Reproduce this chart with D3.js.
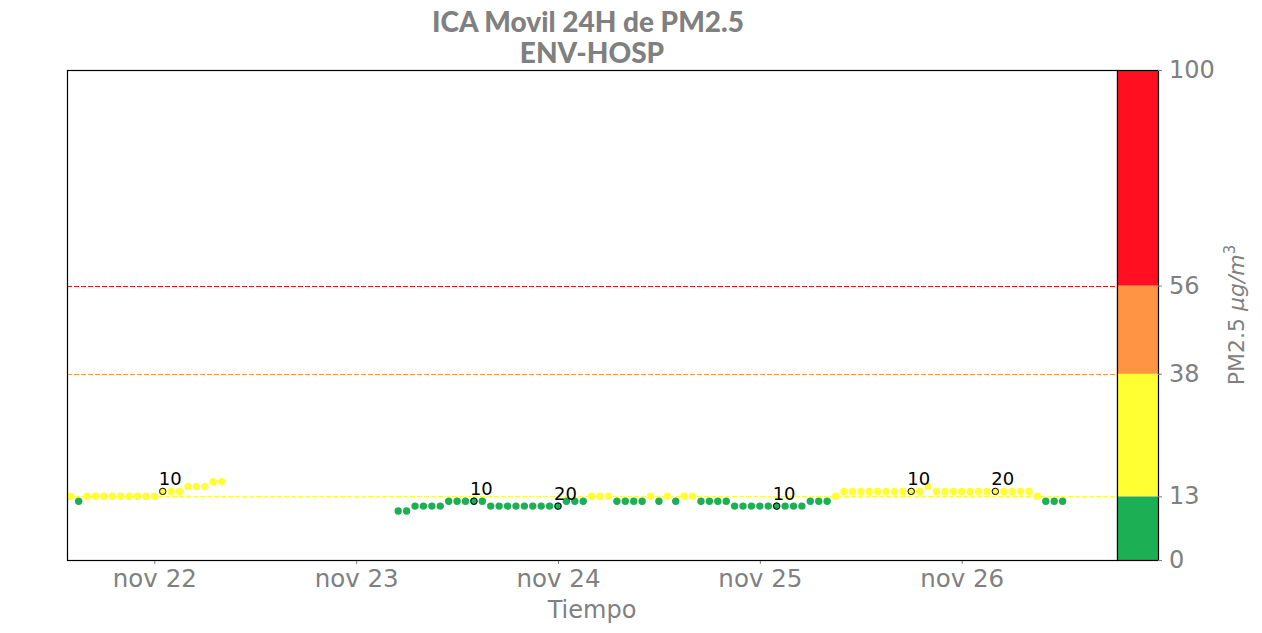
<!DOCTYPE html>
<html>
<head>
<meta charset="utf-8">
<script src="https://cdn.jsdelivr.net/npm/d3@7"></script>
<style>
  body { margin: 0; background: #fff; }
  svg { display: block; }
  text { font-family: "DejaVu Sans", sans-serif; }
</style>
</head>
<body>
<svg width="1262" height="633"></svg>
<script>
// hourly PM2.5 readings, two runs of data with a gap in between
var run1Start = "2020-11-21T14:00", run1End = "2020-11-22T08:00";
var run1Values = [13, 12, 13, 13, 13, 13, 13, 13, 13, 13, 13, 14, 14, 14, 15, 15, 15, 16, 16];

var run2Start = "2020-11-23T05:00", run2End = "2020-11-26T12:00";
var run2Values = [10, 10, 11, 11, 11, 11, 12, 12, 12, 12, 12, 11, 11, 11, 11, 11, 11, 11, 11, 11,
                  12, 12, 12, 13, 13, 13, 12, 12, 12, 12, 13, 12, 13, 12, 13, 13, 12, 12, 12, 12,
                  11, 11, 11, 11, 11, 11, 11, 11, 11, 12, 12, 12, 13, 14, 14, 14, 14, 14, 14, 14,
                  14, 14, 14, 15, 14, 14, 14, 14, 14, 14, 14, 14, 14, 14, 14, 14, 13, 12, 12, 12];

// annotated points
var noteTimes = ["2020-11-22T01:00", "2020-11-23T14:00", "2020-11-24T00:00",
                 "2020-11-25T02:00", "2020-11-25T18:00", "2020-11-26T04:00"];
var noteLabels = ["10", "10", "20", "10", "10", "20"];

// ICA bands
var bandLimits = [0, 13, 38, 56, 100];
var bandColors = ["#1caf54", "#ffff33", "#ff9445", "#ff0f1f"];
var lineLevels = [13, 38, 56];
var lineColors = ["#ffff33", "#ff9445", "#f0101e"];

var parse = d3.timeParse("%Y-%m-%dT%H:%M");

function hourly(start, end, values) {
  var times = d3.timeHour.range(parse(start), d3.timeHour.offset(parse(end), 1));
  return times.map(function(t, i) { return { t: t, v: values[i] }; });
}
var points = hourly(run1Start, run1End, run1Values).concat(hourly(run2Start, run2End, run2Values));

var byTime = {};
points.forEach(function(p) { byTime[+p.t] = p; });
var notes = noteTimes.map(function(s, i) { return { p: byTime[+parse(s)], label: noteLabels[i] }; });

var svg = d3.select("svg");
var plotL = 67, plotR = 1117, plotT = 70, plotB = 560;
var grey = "#808080";

var x = d3.scaleTime()
  .domain([parse("2020-11-21T13:37"), parse("2020-11-26T18:28")])
  .range([plotL, plotR]);
var y = d3.scaleLinear().domain([0, 100]).range([plotB, plotT]);

function colorOf(v) {
  for (var i = bandColors.length - 1; i >= 0; i--) {
    if (v >= bandLimits[i]) return bandColors[i];
  }
  return bandColors[0];
}

// title
svg.append("text").attr("x", 588).attr("y", 32).attr("text-anchor", "middle")
  .style("font-family", "Lato, 'Open Sans', sans-serif").style("font-weight", "900")
  .style("font-size", "28px").attr("fill", grey).text("ICA Movil 24H de PM2.5");
svg.append("text").attr("x", 592).attr("y", 63).attr("text-anchor", "middle")
  .style("font-family", "Lato, 'Open Sans', sans-serif").style("font-weight", "900")
  .style("font-size", "28px").attr("fill", grey).text("ENV-HOSP");

// dashed limit lines
svg.selectAll(".limit").data(lineLevels).enter().append("line")
  .attr("x1", plotL).attr("x2", plotR)
  .attr("y1", function(d) { return Math.round(y(d)) + 0.5; })
  .attr("y2", function(d) { return Math.round(y(d)) + 0.5; })
  .attr("stroke", function(d, i) { return lineColors[i]; })
  .attr("stroke-width", 1.2).attr("stroke-dasharray", "5,2");

// points
svg.append("g").selectAll("circle").data(points).enter().append("circle")
  .attr("cx", function(d) { return x(d.t); })
  .attr("cy", function(d) { return y(d.v); })
  .attr("r", 3.7)
  .attr("fill", function(d) { return colorOf(d.v); });

// annotated points
var ng = svg.append("g");
ng.selectAll("circle").data(notes).enter().append("circle")
  .attr("cx", function(d) { return x(d.p.t); })
  .attr("cy", function(d) { return y(d.p.v); })
  .attr("r", 3.2)
  .attr("fill", function(d) { return colorOf(d.p.v); })
  .attr("stroke", "#000").attr("stroke-width", 1);
ng.selectAll("text").data(notes).enter().append("text")
  .attr("x", function(d) { return x(d.p.t) - 4; })
  .attr("y", function(d) { return y(d.p.v) - 6.5; })
  .style("font-size", "18px").attr("fill", "#000")
  .text(function(d) { return d.label; });

// x axis
var xAxis = svg.append("g").attr("transform", "translate(0," + plotB + ")")
  .call(d3.axisBottom(x).ticks(d3.timeDay.every(1)).tickSize(4).tickPadding(6)
    .tickFormat(function(d) { return d3.timeFormat("%b %d")(d).toLowerCase(); }));
xAxis.select(".domain").remove();
xAxis.selectAll(".tick line").attr("stroke", grey);
xAxis.selectAll(".tick text").attr("fill", grey).style("font-size", "24.5px")
  .style("font-family", "'DejaVu Sans', sans-serif");

svg.append("text").attr("x", 592).attr("y", 618).attr("text-anchor", "middle")
  .style("font-size", "24px").attr("fill", grey).text("Tiempo");

// frame
svg.append("rect").attr("x", plotL + 0.5).attr("y", plotT + 0.5)
  .attr("width", plotR - plotL).attr("height", plotB - plotT)
  .attr("fill", "none").attr("stroke", "#000").attr("stroke-width", 1.2);

// colour bar
var cbLeft = 1117, cbRight = 1158;
var bands = bandColors.map(function(c, i) { return { lo: bandLimits[i], hi: bandLimits[i + 1], c: c }; });
svg.append("g").selectAll("rect").data(bands).enter().append("rect")
  .attr("x", cbLeft).attr("width", cbRight - cbLeft)
  .attr("y", function(d) { return y(d.hi); })
  .attr("height", function(d) { return y(d.lo) - y(d.hi); })
  .attr("fill", function(d) { return d.c; });
svg.append("rect").attr("x", cbLeft + 0.5).attr("y", plotT + 0.5)
  .attr("width", cbRight - cbLeft).attr("height", plotB - plotT)
  .attr("fill", "none").attr("stroke", "#000").attr("stroke-width", 1.2);

var cAxis = svg.append("g").attr("transform", "translate(" + cbRight + ",0)")
  .call(d3.axisRight(y).tickValues(bandLimits).tickSize(4).tickPadding(7));
cAxis.select(".domain").remove();
cAxis.selectAll(".tick line").attr("stroke", grey);
cAxis.selectAll(".tick text").attr("fill", grey).style("font-size", "24px")
  .style("font-family", "'DejaVu Sans', sans-serif");

// colour bar label
var yl = svg.append("text").attr("transform", "translate(1244,315) rotate(-90)")
  .attr("text-anchor", "middle").style("font-size", "22px").attr("fill", grey);
yl.append("tspan").text("PM2.5 ");
yl.append("tspan").style("font-style", "italic").text("μg/m");
yl.append("tspan").attr("dy", -9).style("font-size", "15px").text("3");
</script>
</body>
</html>
